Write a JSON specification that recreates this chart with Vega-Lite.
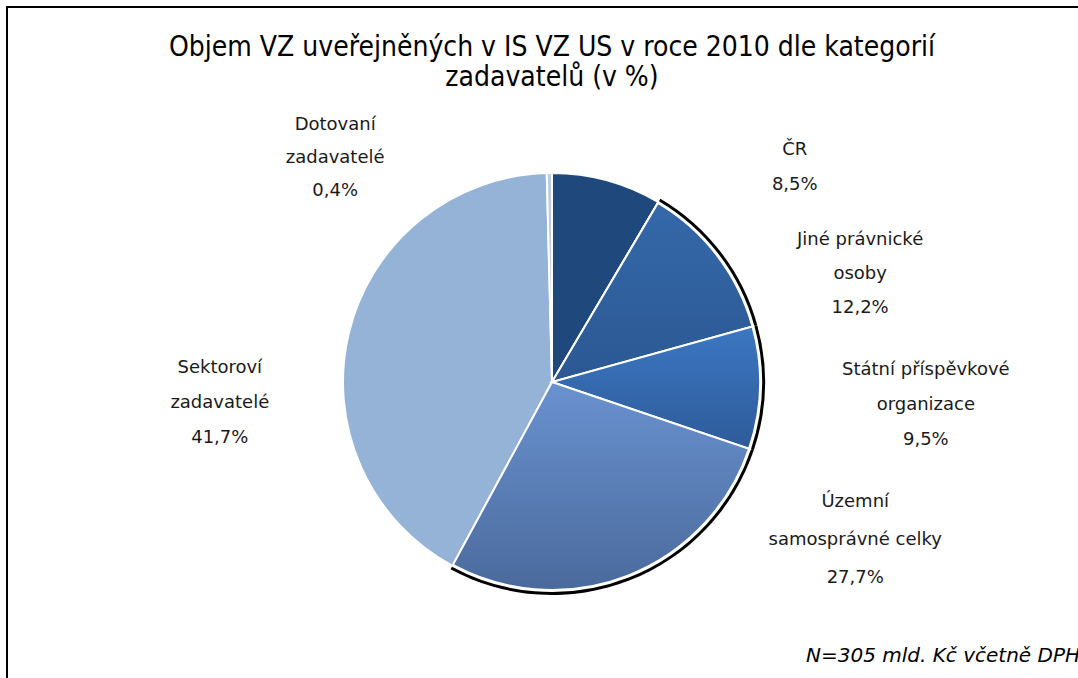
{
  "$schema": "https://vega.github.io/schema/vega-lite/v6.json",
  "width": 1090,
  "height": 750,
  "autosize": {"type": "none"},
  "padding": {"left": 7, "top": 7, "right": 0, "bottom": 0},
  "background": "white",
  "title": {
    "text": ["Objem VZ uveřejněných v IS VZ US v roce 2010 dle kategorií", "zadavatelů (v %)"],
    "anchor": "middle",
    "orient": "top",
    "offset": -116,
    "font": "DejaVu Sans Condensed",
    "fontSize": 28,
    "fontWeight": "normal",
    "lineHeight": 30,
    "color": "#000000"
  },
  "config": {"view": {"stroke": "#000000", "strokeWidth": 2}},
  "datasets": {
    "kategorie": [
      {"kategorie": "ČR", "poradi": 1, "podil": 8.5, "popis": "ČR\n8,5%"},
      {"kategorie": "Jiné právnické osoby", "poradi": 2, "podil": 12.2, "popis": "Jiné právnické\nosoby\n12,2%"},
      {"kategorie": "Státní příspěvkové organizace", "poradi": 3, "podil": 9.5, "popis": "Státní příspěvkové\norganizace\n9,5%"},
      {"kategorie": "Územní samosprávné celky", "poradi": 4, "podil": 27.7, "popis": "Územní\nsamosprávné celky\n27,7%"},
      {"kategorie": "Sektoroví zadavatelé", "poradi": 5, "podil": 41.7, "popis": "Sektoroví\nzadavatelé\n41,7%"},
      {"kategorie": "Dotovaní zadavatelé", "poradi": 6, "podil": 0.4, "popis": "Dotovaní\nzadavatelé\n0,4%"}
    ],
    "poznamka": [{"poznamka": "N=305 mld. Kč včetně DPH"}]
  },
  "layer": [
    {
      "data": {"name": "kategorie"},
      "mark": {"type": "arc", "outerRadius": 213, "strokeWidth": 0},
      "encoding": {
        "theta": {"field": "podil", "type": "quantitative", "stack": true},
        "order": {"field": "poradi", "type": "quantitative"},
        "fill": {
          "condition": {"test": "datum.poradi >= 2 && datum.poradi <= 4", "value": "#000000"},
          "value": "transparent"
        }
      }
    },
    {
      "data": {"name": "kategorie"},
      "mark": {"type": "arc", "outerRadius": 209, "stroke": "#ffffff", "strokeWidth": 2},
      "encoding": {
        "theta": {"field": "podil", "type": "quantitative", "stack": true},
        "order": {"field": "poradi", "type": "quantitative"},
        "color": {
          "field": "kategorie",
          "type": "nominal",
          "legend": null,
          "scale": {
            "domain": ["ČR", "Jiné právnické osoby", "Státní příspěvkové organizace", "Územní samosprávné celky", "Sektoroví zadavatelé", "Dotovaní zadavatelé"],
            "range": ["#1F497D", "#2F5F9E", "#3468AE", "#5A7EB8", "#95B3D7", "#B9CDE5"]
          }
        }
      }
    },
    {
      "data": {"name": "kategorie"},
      "mark": {"type": "arc", "outerRadius": 208, "stroke": "#ffffff", "strokeWidth": 2},
      "encoding": {
        "theta": {"field": "podil", "type": "quantitative", "stack": true},
        "order": {"field": "poradi", "type": "quantitative"},
        "fill": {
          "condition": [
            {"test": "datum.poradi == 2", "value": {"gradient": "linear", "x1": 0, "y1": 0, "x2": 0, "y2": 1, "stops": [{"offset": 0, "color": "#3568AA"}, {"offset": 1, "color": "#2B5892"}]}},
            {"test": "datum.poradi == 3", "value": {"gradient": "linear", "x1": 0, "y1": 0, "x2": 0, "y2": 1, "stops": [{"offset": 0, "color": "#3B77C2"}, {"offset": 1, "color": "#2E5B99"}]}},
            {"test": "datum.poradi == 4", "value": {"gradient": "linear", "x1": 0, "y1": 0, "x2": 0, "y2": 1, "stops": [{"offset": 0, "color": "#6A92D0"}, {"offset": 1, "color": "#4A6A9C"}]}}
          ],
          "value": "transparent"
        },
        "strokeOpacity": {"condition": {"test": "datum.poradi >= 2 && datum.poradi <= 4", "value": 1}, "value": 0}
      }
    },
    {
      "data": {"name": "kategorie"},
      "mark": {"type": "text", "radius": 272, "dx": 171, "dy": 30, "font": "DejaVu Sans", "fontSize": 18, "lineHeight": 35, "lineBreak": "\n", "align": "center", "baseline": "middle", "color": "#1a1a1a"},
      "encoding": {
        "theta": {"field": "podil", "type": "quantitative", "stack": true},
        "order": {"field": "poradi", "type": "quantitative"},
        "text": {"condition": {"test": "datum.poradi == 1", "field": "popis"}, "value": ""}
      }
    },
    {
      "data": {"name": "kategorie"},
      "mark": {"type": "text", "radius": 310, "dx": 62, "dy": 46, "font": "DejaVu Sans", "fontSize": 18, "lineHeight": 34, "lineBreak": "\n", "align": "center", "baseline": "middle", "color": "#1a1a1a"},
      "encoding": {
        "theta": {"field": "podil", "type": "quantitative", "stack": true},
        "order": {"field": "poradi", "type": "quantitative"},
        "text": {"condition": {"test": "datum.poradi == 2", "field": "popis"}, "value": ""}
      }
    },
    {
      "data": {"name": "kategorie"},
      "mark": {"type": "text", "radius": 374, "dx": 0, "dy": -23, "font": "DejaVu Sans", "fontSize": 18, "lineHeight": 35, "lineBreak": "\n", "align": "center", "baseline": "middle", "color": "#1a1a1a"},
      "encoding": {
        "theta": {"field": "podil", "type": "quantitative", "stack": true},
        "order": {"field": "poradi", "type": "quantitative"},
        "text": {"condition": {"test": "datum.poradi == 3", "field": "popis"}, "value": ""}
      }
    },
    {
      "data": {"name": "kategorie"},
      "mark": {"type": "text", "radius": 258, "dx": 209, "dy": -120, "font": "DejaVu Sans", "fontSize": 18, "lineHeight": 38, "lineBreak": "\n", "align": "center", "baseline": "middle", "color": "#1a1a1a"},
      "encoding": {
        "theta": {"field": "podil", "type": "quantitative", "stack": true},
        "order": {"field": "poradi", "type": "quantitative"},
        "text": {"condition": {"test": "datum.poradi == 4", "field": "popis"}, "value": ""}
      }
    },
    {
      "data": {"name": "kategorie"},
      "mark": {"type": "text", "radius": 318, "dx": -23, "dy": 60, "font": "DejaVu Sans", "fontSize": 18, "lineHeight": 35, "lineBreak": "\n", "align": "center", "baseline": "middle", "color": "#1a1a1a"},
      "encoding": {
        "theta": {"field": "podil", "type": "quantitative", "stack": true},
        "order": {"field": "poradi", "type": "quantitative"},
        "text": {"condition": {"test": "datum.poradi == 5", "field": "popis"}, "value": ""}
      }
    },
    {
      "data": {"name": "kategorie"},
      "mark": {"type": "text", "radius": 227, "dx": -214, "dy": -30, "font": "DejaVu Sans", "fontSize": 18, "lineHeight": 33, "lineBreak": "\n", "align": "center", "baseline": "middle", "color": "#1a1a1a"},
      "encoding": {
        "theta": {"field": "podil", "type": "quantitative", "stack": true},
        "order": {"field": "poradi", "type": "quantitative"},
        "text": {"condition": {"test": "datum.poradi == 6", "field": "popis"}, "value": ""}
      }
    },
    {
      "data": {"name": "poznamka"},
      "mark": {"type": "text", "align": "right", "baseline": "middle", "dx": -17, "dy": -101, "font": "DejaVu Sans", "fontStyle": "italic", "fontSize": 20, "color": "#000000"},
      "encoding": {
        "x": {"value": "width"},
        "y": {"value": "height"},
        "text": {"field": "poznamka"}
      }
    }
  ]
}
